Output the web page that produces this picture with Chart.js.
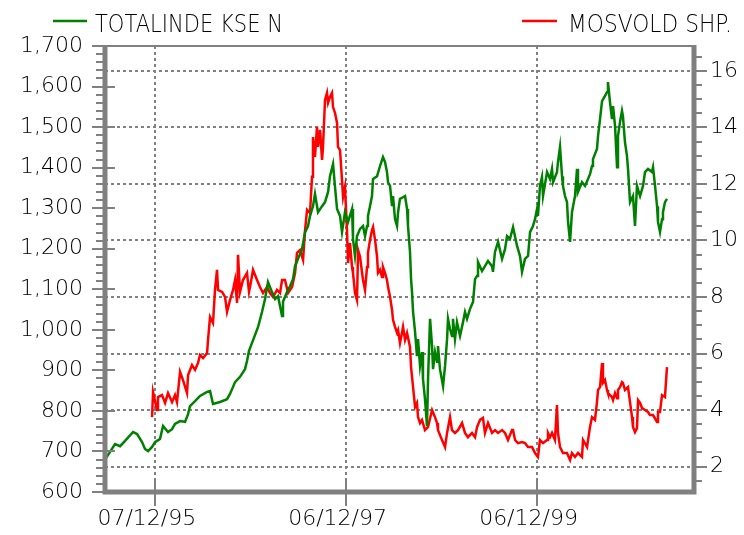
<!DOCTYPE html>
<html><head><meta charset="utf-8">
<script src="https://cdn.jsdelivr.net/npm/chart.js@4.4.0/dist/chart.umd.min.js"></script>
<style>html,body{margin:0;padding:0;background:#fff;}#wrap{width:744px;height:535px;position:relative;}</style>
</head><body><div id="wrap"><canvas id="c" width="744" height="535"></canvas></div>
<script>
// ---- data (x in fractional years) ----
const seriesNames = ['TOTALINDE KSE N', 'MOSVOLD SHP.'];

const totalDates = [1995.400,1995.463,1995.515,1995.568,1995.620,1995.704,1995.746,1995.798,1995.829,1995.861,
1995.903,1995.934,1995.986,1996.018,1996.070,1996.112,1996.143,1996.196,1996.248,1996.280,
1996.300,1996.353,1996.405,1996.479,1996.510,1996.541,1996.615,1996.688,1996.719,1996.772,
1996.824,1996.876,1996.897,1996.918,1997.013,1997.054,1997.086,1997.117,1997.159,1997.191,
1997.222,1997.264,1997.274,1997.316,1997.348,1997.379,1997.400,1997.431,1997.473,1997.505,
1997.536,1997.557,1997.588,1997.609,1997.641,1997.683,1997.714,1997.746,1997.766,1997.798,
1997.819,1997.840,1997.871,1997.892,1997.923,1997.955,1997.997,1998.007,1998.028,1998.049,
1998.081,1998.112,1998.133,1998.154,1998.164,1998.185,1998.206,1998.217,1998.259,1998.290,
1998.321,1998.342,1998.363,1998.374,1998.395,1998.416,1998.426,1998.447,1998.468,1998.479,
1998.499,1998.531,1998.552,1998.573,1998.583,1998.604,1998.615,1998.625,1998.636,1998.657,
1998.677,1998.688,1998.709,1998.730,1998.740,1998.761,1998.782,1998.793,1998.814,1998.835,
1998.845,1998.866,1998.887,1998.897,1998.918,1998.950,1998.971,1998.992,1999.002,1999.023,
1999.044,1999.054,1999.075,1999.096,1999.128,1999.159,1999.180,1999.201,1999.232,1999.264,
1999.285,1999.306,1999.316,1999.358,1999.389,1999.421,1999.463,1999.473,1999.494,1999.526,
1999.568,1999.599,1999.620,1999.651,1999.683,1999.725,1999.756,1999.777,1999.808,1999.840,
1999.861,1999.892,1999.913,1999.934,1999.944,1999.965,1999.986,1999.997,2000.039,2000.070,
2000.091,2000.102,2000.143,2000.154,2000.175,2000.196,2000.206,2000.227,2000.248,2000.259,
2000.280,2000.300,2000.332,2000.353,2000.363,2000.405,2000.437,2000.468,2000.489,2000.510,
2000.520,2000.562,2000.573,2000.594,2000.615,2000.646,2000.667,2000.677,2000.698,2000.719,
2000.730,2000.751,2000.772,2000.782,2000.803,2000.824,2000.834,2000.855,2000.876,2000.887,
2000.908,2000.939,2000.960,2000.981,2001.013,2001.044,2001.065,2001.096,2001.138,2001.149,
2001.170,2001.191,2001.201,2001.222,2001.243,2001.253,2001.274,2001.295];

const totalIndex = [676,699,718,713,726,748,743,723,706,701,
711,723,731,763,748,755,768,775,773,792,
812,824,837,847,849,817,822,829,842,871,
884,903,923,948,1007,1044,1076,1118,1093,1076,
1083,1034,1069,1093,1108,1125,1157,1175,1199,1241,
1256,1281,1305,1335,1290,1305,1315,1340,1379,1409,
1352,1298,1281,1241,1290,1266,1298,1224,1182,1231,
1249,1256,1231,1256,1281,1305,1330,1372,1379,1404,
1426,1414,1389,1364,1355,1305,1330,1273,1256,1290,
1323,1327,1330,1298,1256,1192,1125,1093,1044,995,
935,977,911,945,879,829,763,879,1027,960,
903,945,921,960,903,861,911,977,1027,1002,
985,1027,977,1019,985,1019,1044,1027,1051,1069,
1125,1133,1167,1145,1157,1170,1157,1143,1192,1217,
1175,1199,1231,1224,1253,1207,1182,1143,1175,1182,
1241,1256,1273,1298,1281,1355,1377,1330,1389,1372,
1397,1364,1389,1414,1451,1379,1355,1330,1315,1266,
1217,1290,1330,1397,1340,1364,1355,1372,1384,1404,
1421,1446,1478,1520,1564,1577,1586,1611,1562,1520,
1552,1503,1401,1478,1512,1540,1527,1463,1429,1397,
1315,1330,1256,1355,1330,1355,1389,1397,1389,1401,
1355,1305,1266,1241,1273,1290,1315,1323];

const mosvoldDates = [1995.903,1995.913,1995.955,1995.965,1996.007,1996.039,1996.070,1996.112,1996.143,1996.164,
1996.196,1996.227,1996.269,1996.280,1996.321,1996.353,1996.384,1996.405,1996.437,1996.479,
1996.489,1996.510,1996.541,1996.562,1996.583,1996.594,1996.636,1996.667,1996.688,1996.719,
1996.751,1996.772,1996.793,1996.803,1996.824,1996.855,1996.897,1996.918,1996.929,1996.960,
1997.002,1997.033,1997.065,1997.107,1997.138,1997.170,1997.211,1997.243,1997.264,1997.295,
1997.327,1997.369,1997.400,1997.421,1997.452,1997.484,1997.505,1997.526,1997.557,1997.578,
1997.588,1997.609,1997.630,1997.641,1997.662,1997.683,1997.693,1997.714,1997.735,1997.746,
1997.766,1997.787,1997.798,1997.819,1997.840,1997.850,1997.871,1997.892,1997.903,1997.923,
1997.944,1997.955,1997.976,1997.997,1998.007,1998.028,1998.049,1998.060,1998.081,1998.102,
1998.112,1998.133,1998.154,1998.164,1998.185,1998.206,1998.217,1998.238,1998.259,1998.269,
1998.290,1998.311,1998.321,1998.342,1998.363,1998.374,1998.395,1998.416,1998.426,1998.447,
1998.468,1998.479,1998.499,1998.520,1998.531,1998.552,1998.573,1998.604,1998.615,1998.636,
1998.657,1998.677,1998.688,1998.709,1998.730,1998.761,1998.793,1998.835,1998.866,1998.887,
1998.897,1998.939,1998.971,1998.992,1999.023,1999.044,1999.075,1999.107,1999.149,1999.180,
1999.211,1999.253,1999.285,1999.306,1999.337,1999.368,1999.389,1999.421,1999.463,1999.494,
1999.526,1999.568,1999.599,1999.630,1999.672,1999.683,1999.704,1999.735,1999.777,1999.808,
1999.840,1999.882,1999.913,1999.944,1999.965,1999.997,2000.039,2000.049,2000.070,2000.091,
2000.122,2000.143,2000.154,2000.175,2000.206,2000.248,2000.280,2000.300,2000.332,2000.363,
2000.405,2000.416,2000.458,2000.489,2000.510,2000.541,2000.562,2000.573,2000.594,2000.615,
2000.625,2000.646,2000.667,2000.677,2000.719,2000.730,2000.751,2000.772,2000.782,2000.803,
2000.824,2000.834,2000.855,2000.887,2000.908,2000.929,2000.939,2000.960,2000.981,2000.992,
2001.013,2001.034,2001.065,2001.096,2001.117,2001.149,2001.191,2001.201,2001.222,2001.243,
2001.274,2001.295];

const mosvoldPrice = [3.75,4.64,4.00,4.46,4.53,4.25,4.60,4.28,4.53,4.28,
5.35,5.06,4.60,5.24,5.59,5.42,5.66,5.95,5.84,6.02,
6.48,7.29,7.08,8.25,8.96,8.25,8.18,8.00,7.47,7.89,
8.25,8.60,7.79,9.49,8.18,8.60,8.85,8.18,8.35,8.96,
8.60,8.35,8.14,8.35,8.14,8.00,8.25,8.14,8.60,8.60,
8.14,8.35,8.85,9.56,9.66,9.31,10.37,11.08,10.97,12.25,
13.66,12.96,14.02,13.31,13.91,12.85,13.31,14.97,15.22,14.87,
15.08,15.22,14.72,14.51,14.16,13.31,13.20,12.14,11.54,11.89,
10.37,9.20,9.91,9.06,8.85,8.14,7.89,9.66,9.42,8.85,
8.60,8.25,9.06,9.56,10.02,10.37,10.48,10.02,9.42,8.85,
8.96,8.71,9.06,8.85,8.60,8.35,8.00,7.54,7.19,6.94,
6.73,6.83,6.37,6.73,6.94,6.48,6.73,6.23,5.52,4.81,
4.11,4.25,3.75,3.54,3.65,3.29,3.40,4.00,3.75,3.54,
3.29,2.94,2.69,3.19,3.75,3.29,3.19,3.29,3.54,3.19,
3.04,3.19,3.04,3.40,3.65,3.72,3.19,3.54,3.19,3.29,
3.19,3.29,3.19,2.94,3.29,3.29,2.94,2.83,2.87,2.83,
2.69,2.69,2.48,2.34,2.94,2.83,2.94,3.19,3.04,3.19,
2.94,4.18,3.19,2.69,2.48,2.48,2.23,2.48,2.34,2.48,
2.34,2.94,2.69,3.40,3.75,3.65,4.28,4.71,4.81,5.66,
4.96,5.06,4.71,4.60,4.46,4.35,4.60,4.42,4.71,4.81,
4.99,4.96,4.71,4.81,4.28,3.75,3.40,3.22,3.36,4.35,
4.25,4.07,4.00,3.93,3.82,3.82,3.58,3.93,3.93,4.53,
4.46,5.52];

const xTickDates = [1995.932, 1997.929, 1999.929];
const xTickLabels = ['07/12/95', '06/12/97', '06/12/99'];
const leftTicks = [600,700,800,900,1000,1100,1200,1300,1400,1500,1600,1700];
const rightTicks = [2,4,6,8,10,12,14,16];

// ---- styling ----
const GRAY = '#808080';
const FONT = 'DejaVu Sans';
const WEIGHT = '200';

const pts = (xs, ys) => ys.map((v, i) => ({x: xs[i], y: v}));

const decor = {
  id: 'decor',
  beforeDatasetsDraw(chart) {
    const {ctx, chartArea: a, scales} = chart;
    ctx.save();
    ctx.strokeStyle = GRAY; ctx.lineWidth = 2; ctx.setLineDash([3, 3]);
    rightTicks.forEach(v => {
      const y = Math.round(scales.y1.getPixelForValue(v));
      ctx.beginPath(); ctx.moveTo(a.left, y); ctx.lineTo(a.right, y); ctx.stroke();
    });
    xTickDates.forEach(v => {
      const x = Math.round(scales.x.getPixelForValue(v));
      ctx.beginPath(); ctx.moveTo(x, a.top); ctx.lineTo(x, a.bottom); ctx.stroke();
    });
    ctx.restore();
  },
  afterDatasetsDraw(chart) {
    const {ctx, chartArea: a, scales} = chart;
    ctx.save();
    ctx.strokeStyle = GRAY; ctx.setLineDash([]);
    ctx.lineWidth = 2;
    const yl = scales.y;
    for (let v = 600; v <= 1700; v += 20) {
      const y = Math.round(yl.getPixelForValue(v));
      const major = v % 100 === 0;
      ctx.beginPath(); ctx.moveTo(major ? a.left - 13 : a.left - 9, y); ctx.lineTo(major ? a.left + 10 : a.left, y); ctx.stroke();
    }
    const yr = scales.y1;
    for (let v = 1.5; v <= 16.5; v += 0.5) {
      const y = Math.round(yr.getPixelForValue(v));
      const major = Math.abs(v % 2) < 1e-9;
      ctx.beginPath(); ctx.moveTo(a.right, y); ctx.lineTo(major ? a.right + 13 : a.right + 8, y); ctx.stroke();
    }
    xTickDates.forEach(v => {
      const x = Math.round(scales.x.getPixelForValue(v));
      ctx.beginPath(); ctx.moveTo(x, a.bottom - 12); ctx.lineTo(x, a.bottom + 14); ctx.stroke();
    });
    // frame
    ctx.lineWidth = 2;
    ctx.beginPath(); ctx.moveTo(a.left, a.top); ctx.lineTo(a.right, a.top); ctx.stroke();
    ctx.lineWidth = 5;
    ctx.beginPath();
    ctx.moveTo(a.left, a.top - 1); ctx.lineTo(a.left, a.bottom);
    ctx.lineTo(a.right, a.bottom); ctx.lineTo(a.right, a.top - 1);
    ctx.stroke();
    ctx.restore();
  },
  afterDraw(chart) {
    const ctx = chart.ctx;
    ctx.save();
    ctx.lineWidth = 2.5;
    ctx.strokeStyle = '#008000';
    ctx.beginPath(); ctx.moveTo(53, 21); ctx.lineTo(87, 21); ctx.stroke();
    ctx.strokeStyle = '#ff0000';
    ctx.beginPath(); ctx.moveTo(522, 21); ctx.lineTo(557, 21); ctx.stroke();
    ctx.fillStyle = '#000';
    ctx.font = WEIGHT + ' 25px "' + FONT + '"';
    ctx.textBaseline = 'alphabetic';
    ctx.textAlign = 'left';
    ctx.fillText(seriesNames[0], 95, 32, 188);
    ctx.fillText(seriesNames[1], 568, 32, 164);
    ctx.restore();
  }
};

const tickFont = {family: FONT, size: 22, weight: WEIGHT};

new Chart(document.getElementById('c'), {
  type: 'line',
  data: {
    datasets: [
      {label: seriesNames[0], data: pts(totalDates, totalIndex), yAxisID: 'y',
       borderColor: '#008000', borderWidth: 2.5, pointRadius: 0, tension: 0, fill: false},
      {label: seriesNames[1], data: pts(mosvoldDates, mosvoldPrice), yAxisID: 'y1',
       borderColor: '#ff0000', borderWidth: 2.5, pointRadius: 0, tension: 0, fill: false}
    ]
  },
  options: {
    responsive: false,
    devicePixelRatio: 1,
    animation: false,
    layout: {padding: {top: 46, left: 0, right: 0, bottom: 0}},
    plugins: {legend: {display: false}, tooltip: {enabled: false}, title: {display: false}},
    scales: {
      x: {
        type: 'linear', position: 'bottom', min: 1995.41, max: 2001.578,
        afterBuildTicks(s) { s.ticks = xTickDates.map(v => ({value: v})); },
        afterFit(s) { s.height = 43; },
        grid: {display: false, drawTicks: false},
        border: {display: false},
        ticks: {autoSkip: false, maxRotation: 0, padding: 14, labelOffset: -8, color: '#000',
          font: tickFont,
          callback: (v) => { const i = xTickDates.indexOf(v); return i >= 0 ? xTickLabels[i] : ''; }}
      },
      y: {
        type: 'linear', position: 'left', min: 600, max: 1700,
        afterBuildTicks(s) { s.ticks = leftTicks.map(v => ({value: v})); },
        afterFit(s) { s.width = 105; },
        grid: {display: false, drawTicks: false},
        border: {display: false},
        ticks: {autoSkip: false, padding: 22, color: '#000', font: tickFont,
          callback: (v) => v.toLocaleString('en-US')}
      },
      y1: {
        type: 'linear', position: 'right', min: 1.1, max: 16.88,
        afterBuildTicks(s) { s.ticks = rightTicks.map(v => ({value: v})); },
        afterFit(s) { s.width = 50; },
        grid: {display: false, drawTicks: false},
        border: {display: false},
        ticks: {autoSkip: false, padding: 16, color: '#000', font: tickFont,
          callback: (v) => String(v)}
      }
    }
  },
  plugins: [decor]
});
</script></body></html>
